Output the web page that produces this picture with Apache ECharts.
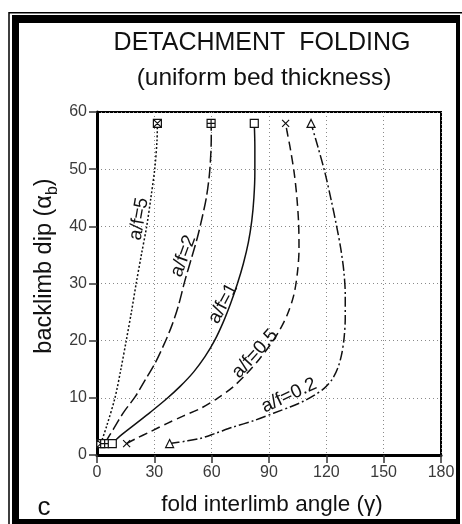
<!DOCTYPE html>
<html><head><meta charset="utf-8">
<script src="https://cdn.jsdelivr.net/npm/echarts@6/dist/echarts.min.js"></script>
<style>html,body{margin:0;padding:0;background:#fff}#c{width:462px;height:524px}</style>
</head><body><div id="c"></div>
<script>
// ---- data ----
const xTickLabels = [0, 30, 60, 90, 120, 150, 180];
const yTickLabels = [0, 10, 20, 30, 40, 50, 60];
const curveLabels = ['a/f=5', 'a/f=2', 'a/f=1', 'a/f=0.5', 'a/f=0.2'];

const gammaAF5 = [2, 5, 9.4, 12.5, 15.3, 18, 20.5, 23.2, 26, 28.2, 30.2, 31.4, 31.6];
const dipAF5   = [2, 5, 10, 15, 20, 25, 30, 35, 40, 45, 50, 55, 58];

const gammaAF2 = [4, 8.5, 14, 20, 25, 30.3, 35, 39, 42.5, 46, 49.5, 52.5, 55, 57.2, 58.8, 59.6, 59.8, 59.7];
const dipAF2   = [2, 4.5, 7.5, 10.2, 13, 16, 19.3, 22.5, 26, 30.5, 34.5, 38, 41.5, 45, 49, 53, 56, 58];

const gammaAF1 = [8, 12, 20, 28, 36, 43.5, 50.5, 56.5, 61.5, 66, 70, 73.5, 76.6, 79.2, 81, 82.1, 82.6, 82.6, 82.3];
const dipAF1   = [2, 3.3, 5.4, 7.5, 9.7, 12, 14.5, 17.2, 20, 23.2, 26.6, 30, 33.5, 37.2, 41, 45, 49.5, 54, 58];

const gammaAF05 = [15.5, 20, 28, 36.5, 45, 54.5, 63, 71.5, 78.5, 85, 90.5, 95, 99.5, 103, 104.9, 105.7, 105.5, 104.6, 103.2, 101.2, 99.5, 98.7];
const dipAF05   = [2, 2.8, 4.1, 5.5, 6.8, 8.2, 9.9, 12, 14.3, 16.8, 19.2, 21.5, 24.5, 28, 32, 36, 40.5, 45, 49.3, 53.5, 56.5, 58];

const gammaAF02 = [38, 46, 54, 62, 71.3, 82, 92.3, 101, 108, 114, 119, 123, 126, 128, 129.3, 129.9, 129.9, 129.2, 127.6, 125.4, 122.6, 119.2, 115.5, 112];
const dipAF02   = [2, 2.4, 2.9, 3.8, 4.9, 6, 7.3, 8.4, 9.4, 10.5, 11.7, 13.2, 15.2, 17.6, 20.5, 24, 28, 32, 36, 40, 44.5, 49.5, 54, 58];

// ---- styling / placement (not data) ----
const INK = '#111';
const symX = 'path://M0,0L10,10M10,0L0,10';
const symBoxX = 'path://M0,0L10,0L10,10L0,10Z M0,0L10,10 M10,0L0,10';
const symBoxPlus = 'path://M0,0L10,0L10,10L0,10Z M5,0L5,10 M0,5L10,5';
const curves = [
  { g: gammaAF5,  d: dipAF5,  dash: [2, 2],        sym: symBoxX,    size: 8,  label: [22.0, 41.3], rot: 80 },
  { g: gammaAF2,  d: dipAF2,  dash: [12, 4],       sym: symBoxPlus, size: 8,  label: [45.2, 34.8], rot: 70 },
  { g: gammaAF1,  d: dipAF1,  dash: 'solid',       sym: 'rect',     size: 8,  label: [66.0, 26.5], rot: 62 },
  { g: gammaAF05, d: dipAF05, dash: [9, 5],        sym: symX,       size: 7,  label: [82.7, 17.7], rot: 48 },
  { g: gammaAF02, d: dipAF02, dash: [10, 3, 2, 3], sym: 'triangle', size: 8,  label: [100.5, 10.4], rot: 25 }
];

const chart = echarts.init(document.getElementById('c'), null, { renderer: 'canvas' });

const series = curves.map((c, k) => ({
  type: 'line',
  name: curveLabels[k],
  smooth: 0.3,
  z: 3,
  lineStyle: { color: INK, width: 1.5, type: c.dash },
  itemStyle: { color: '#fff', borderColor: INK, borderWidth: 1.2 },
  symbolKeepAspect: true,
  showAllSymbol: true,
  silent: true,
  data: c.g.map((g, i) => ({
    value: [g, c.d[i]],
    symbol: (i === 0 || i === c.g.length - 1) ? c.sym : 'none',
    symbolSize: c.size
  }))
}));

const fontFam = '"Liberation Sans", Arial, sans-serif';

chart.setOption({
  animation: false,
  backgroundColor: '#fff',
  title: [
    { text: 'DETACHMENT  FOLDING', left: 262, top: 28, textAlign: 'center', padding: 0,
      textStyle: { fontFamily: fontFam, fontSize: 25, fontWeight: 'normal', color: INK, lineHeight: 30 } },
    { text: '(uniform bed thickness)', left: 264, top: 63, textAlign: 'center', padding: 0,
      textStyle: { fontFamily: fontFam, fontSize: 24.5, fontWeight: 'normal', color: INK, lineHeight: 30 } }
  ],
  grid: { left: 97, right: 21, top: 112, bottom: 69, show: true, borderColor: '#000', borderWidth: 2, backgroundColor: '#fff' },
  xAxis: {
    type: 'value', min: 0, max: 180, interval: 10,
    axisLine: { show: true, onZero: false, lineStyle: { color: '#000', width: 3 } },
    axisTick: { show: true, length: 8, inside: false, customValues: xTickLabels, lineStyle: { color: '#333', width: 1.5 } },
    axisLabel: { customValues: xTickLabels, margin: 10, fontFamily: fontFam, fontSize: 16, color: '#3a3a3a' },
    splitLine: { show: true, lineStyle: { color: '#8a8a8a', width: 1, type: [1, 3] } }
  },
  yAxis: {
    type: 'value', min: 0, max: 60, interval: 5,
    axisLine: { show: true, onZero: false, lineStyle: { color: '#000', width: 3 } },
    axisTick: { show: true, length: 8, inside: false, customValues: yTickLabels, lineStyle: { color: '#333', width: 1.5 } },
    axisLabel: { customValues: yTickLabels, margin: 10, fontFamily: fontFam, fontSize: 16, color: '#3a3a3a' },
    splitLine: { show: true, lineStyle: { color: '#8a8a8a', width: 1, type: [1, 3] } }
  },
  series: series
});

// labels and frame
const labelGraphics = curves.map((c, k) => {
  const p = chart.convertToPixel({ gridIndex: 0 }, c.label);
  return {
    type: 'text', x: p[0], y: p[1], rotation: c.rot * Math.PI / 180, z: 10,
    style: { text: curveLabels[k], fontFamily: fontFam, fontSize: 19, fill: INK,
             textAlign: 'center', textVerticalAlign: 'middle' }
  };
});

chart.setOption({
  graphic: [
    // outer thin line
    { type: 'rect', shape: { x: 9, y: 12.7, width: 470, height: 530 }, style: { fill: 'none', stroke: '#000', lineWidth: 1.5 }, z: 0, silent: true },
    // thick bands
    { type: 'rect', shape: { x: 12, y: 15, width: 448, height: 8 }, style: { fill: '#000' }, z: 0, silent: true },
    { type: 'rect', shape: { x: 12, y: 15, width: 7, height: 515 }, style: { fill: '#000' }, z: 0, silent: true },
    { type: 'rect', shape: { x: 456, y: 15, width: 4, height: 515 }, style: { fill: '#000' }, z: 0, silent: true },
    { type: 'rect', shape: { x: 12, y: 519, width: 448, height: 10 }, style: { fill: '#000' }, z: 0, silent: true },
    // axis titles
    { type: 'text', x: 272, y: 505, z: 10,
      style: { text: 'fold interlimb angle (γ)', fontFamily: fontFam, fontSize: 22.5, fill: INK, textAlign: 'center', textVerticalAlign: 'middle' } },
    { type: 'text', x: 45, y: 266, rotation: Math.PI / 2, z: 10,
      style: { text: '{m|backlimb dip (α}{s|b}{m|)}', textAlign: 'center', textVerticalAlign: 'middle',
               rich: { m: { fontFamily: fontFam, fontSize: 23.5, lineHeight: 32, verticalAlign: 'middle', fill: INK },
                       s: { fontFamily: fontFam, fontSize: 16, lineHeight: 16, verticalAlign: 'bottom', fill: INK } } } },
    { type: 'text', x: 44, y: 508, z: 10,
      style: { text: 'c', fontFamily: fontFam, fontSize: 26, fill: INK, textAlign: 'center', textVerticalAlign: 'middle' } }
  ].concat(labelGraphics)
});
</script>
</body></html>
